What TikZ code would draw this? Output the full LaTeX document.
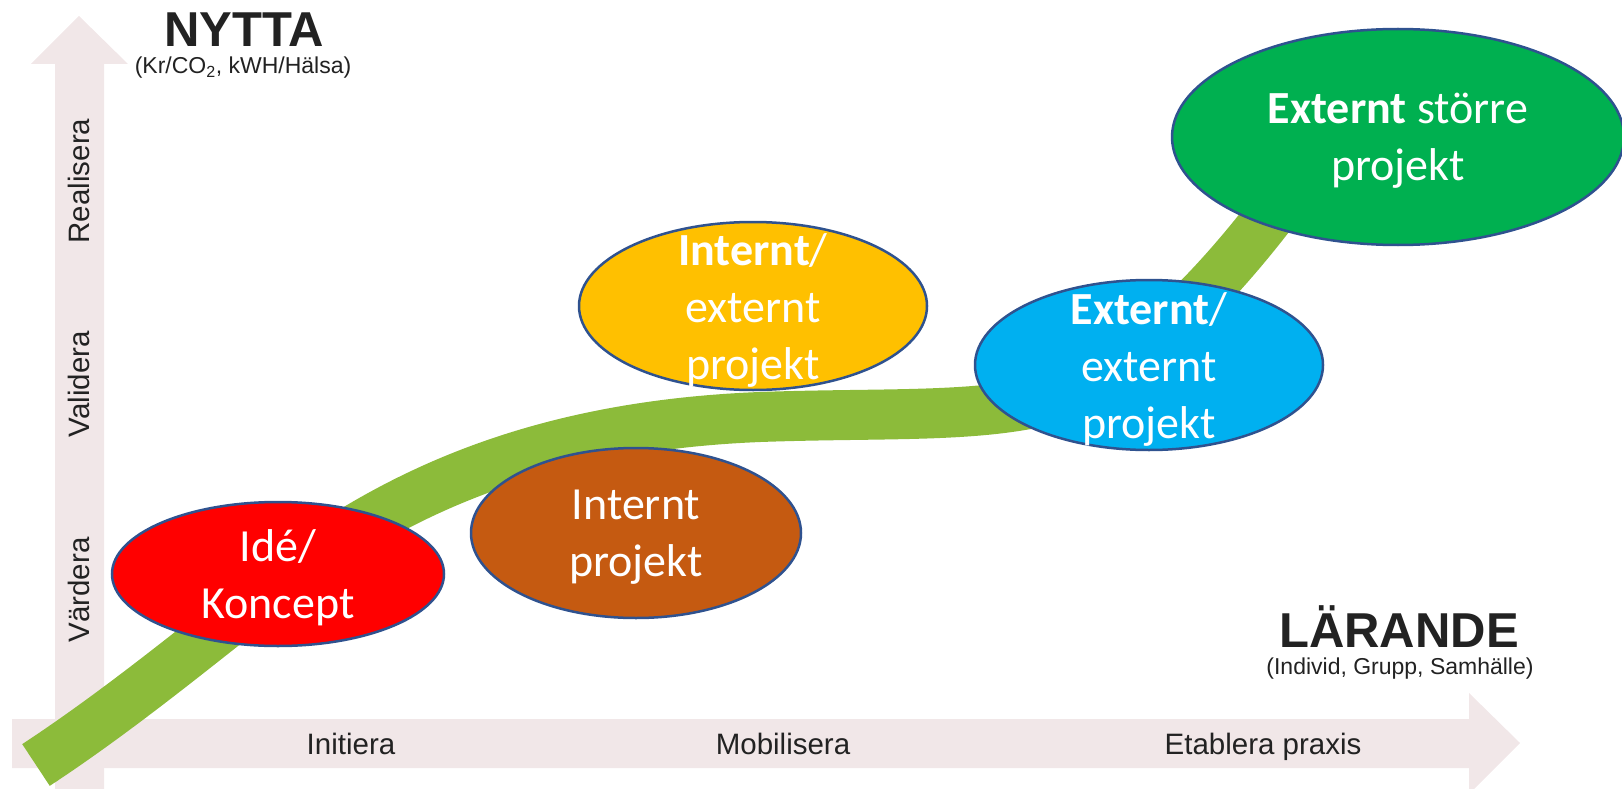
\documentclass[tikz,border=0pt]{standalone}
\usepackage{fontspec}
\setmainfont{Liberation Sans}
\newfontfamily\carlito{Carlito}
\usepackage{tikz}
\usetikzlibrary{shapes.geometric}

\definecolor{axisbg}{RGB}{241,231,232}
\definecolor{bandgreen}{RGB}{140,187,58}
\definecolor{rimblue}{RGB}{47,82,143}
\definecolor{ideared}{RGB}{255,0,0}
\definecolor{internbrown}{RGB}{197,90,17}
\definecolor{mixedyellow}{RGB}{255,192,0}
\definecolor{externblue}{RGB}{0,176,240}
\definecolor{largegreen}{RGB}{0,176,80}
\definecolor{labelgray}{RGB}{34,34,34}

\begin{document}
\begin{tikzpicture}[x=1pt, y=-1pt,
    axis/.style={fill=axisbg},
    band/.style={draw=bandgreen, line width=50pt},
    stage/.style={ellipse, draw=rimblue, line width=2.5pt, inner sep=0pt},
    stagetext/.style={text=white, align=center, font=\carlito\fontsize{46}{57}\selectfont, yshift=-4pt},
    phase/.style={text=labelgray, font=\fontsize{29.5}{34}\selectfont},
    heading/.style={text=labelgray, font=\bfseries\fontsize{49}{56}\selectfont, anchor=base, inner sep=0pt},
    unit/.style={text=labelgray, font=\fontsize{23}{27}\selectfont, anchor=base, inner sep=0pt}]
    \useasboundingbox (0,0) rectangle (1622,789);

    \fill[axis] (55,789) -- (55,64) -- (31,64) -- (79,16) -- (128,64) -- (104,64) -- (104,789) -- cycle;
    \fill[axis] (12,719) -- (1469,719) -- (1469,693) -- (1520,743) -- (1469,794) -- (1469,768) -- (12,768) -- cycle;

    \node at (79,181) [phase, rotate=90] (realisera) {Realisera};
    \node at (79,384) [phase, rotate=90] (validera) {Validera};
    \node at (79,590) [phase, rotate=90] (vardera) {Värdera};
    \node at (351,754) [phase, anchor=base] (initiera) {Initiera};
    \node at (783,754) [phase, anchor=base] (mobilisera) {Mobilisera};
    \node at (1263,754) [phase, anchor=base] (etablera) {Etablera praxis};

    \node at (244,47) [heading] (nytta) {NYTTA};
    \node at (243,74) [unit] (nyttaunit) {(Kr/CO\textsubscript{2}, kWH/Hälsa)};
    \node at (1399,647) [heading] (larande) {LÄRANDE};
    \node at (1400,674) [unit] (larandeunit) {(Individ, Grupp, Samhälle)};

    \draw[band] (36,765) .. controls (150,690) and (250,600) .. (330,545)
        .. controls (430,480) and (560,425) .. (760,417)
        .. controls (900,412) and (1000,420) .. (1080,390)
        .. controls (1160,350) and (1240,260) .. (1300,175);

    \node at (278,574) [stage, fill=ideared, minimum width=332pt, minimum height=144pt] (idea) {};
    \node at (idea) [stagetext] (ideatext) {Idé/\\Koncept};
    \node at (636,533) [stage, fill=internbrown, minimum width=330pt, minimum height=170pt] (intern) {};
    \node at (intern) [stagetext] (interntext) {Internt\\projekt};
    \node at (753,306) [stage, fill=mixedyellow, minimum width=348pt, minimum height=168pt] (mixed) {};
    \node at (mixed) [stagetext] (mixedtext) {\textbf{Internt}/\\externt\\projekt};
    \node at (1149,365) [stage, fill=externblue, minimum width=348pt, minimum height=170pt] (extern) {};
    \node at (extern) [stagetext] (externtext) {\textbf{Externt}/\\externt\\projekt};
    \node at (1398,137) [stage, fill=largegreen, minimum width=452pt, minimum height=216pt] (larger) {};
    \node at (larger) [stagetext] (largertext) {\textbf{Externt} större\\projekt};
\end{tikzpicture}
\end{document}
